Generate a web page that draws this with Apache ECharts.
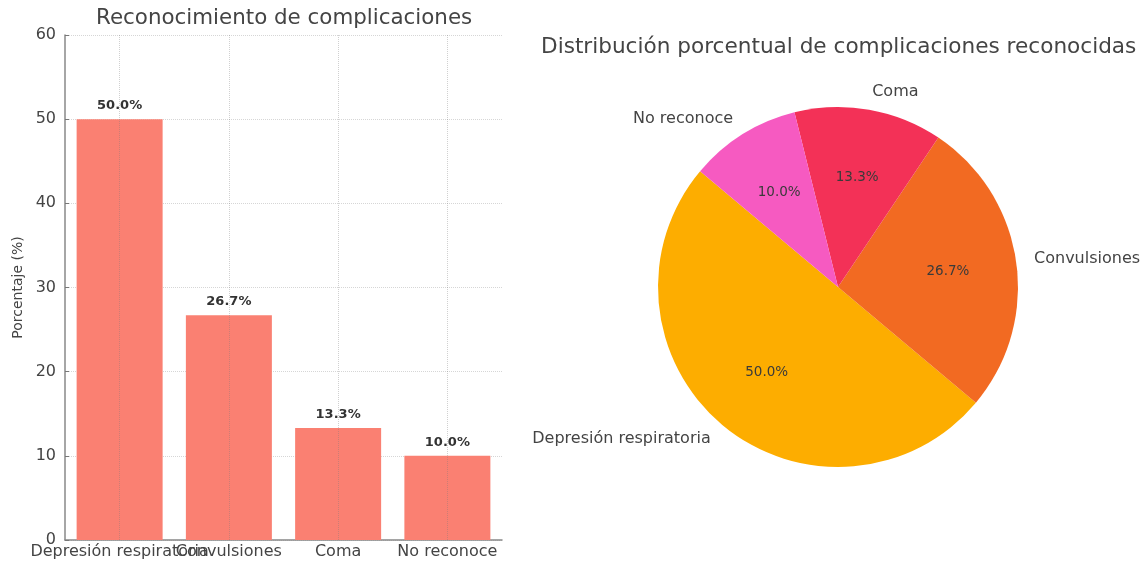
<!DOCTYPE html>
<html>
<head>
<meta charset="utf-8">
<script src="https://cdn.jsdelivr.net/npm/echarts@6/dist/echarts.min.js"></script>
<style>
html,body{margin:0;padding:0;background:#fff;}
#c{width:1145px;height:562px;}
</style>
</head>
<body>
<div id="c"></div>
<script>
const categories = ['Depresión respiratoria', 'Convulsiones', 'Coma', 'No reconoce'];
const percentages = [50.0, 26.7, 13.3, 10.0];
const yTicks = [0, 10, 20, 30, 40, 50, 60];
const pieColors = ['#FDAD00', '#F26A22', '#F33157', '#F65AC1'];
const barColor = '#FA8072';

const FONT = 'DejaVu Sans';
const chart = echarts.init(document.getElementById('c'), null, {renderer: 'canvas'});

const pieData = categories.map((name, i) => ({name: name, value: percentages[i], itemStyle: {color: pieColors[i]}}));

chart.setOption({
  animation: false,
  backgroundColor: '#fff',
  textStyle: {fontFamily: FONT},
  title: [
    {text: 'Reconocimiento de complicaciones', left: 96, top: 8, padding: 0,
     textStyle: {fontFamily: FONT, fontSize: 21.4, fontWeight: 'normal', color: '#444'}},
    {text: 'Distribución porcentual de complicaciones reconocidas', left: 541, top: 36, padding: 0,
     textStyle: {fontFamily: FONT, fontSize: 21.6, fontWeight: 'normal', color: '#444'}}
  ],
  grid: {left: 65, top: 35, width: 437, bottom: 22, containLabel: false},
  xAxis: {
    type: 'category',
    data: categories,
    axisLine: {lineStyle: {color: '#888', width: 1.5}},
    axisTick: {alignWithLabel: true, inside: true, length: 4, lineStyle: {color: '#777'}},
    axisLabel: {interval: 0, hideOverlap: false, fontFamily: FONT, fontSize: 16, color: '#444', margin: 4},
    splitLine: {show: false}
  },
  yAxis: {
    type: 'value',
    min: yTicks[0], max: yTicks[yTicks.length - 1], interval: 10,
    name: 'Porcentaje (%)', nameLocation: 'middle', nameGap: 40,
    nameTextStyle: {fontFamily: FONT, fontSize: 14, color: '#444'},
    axisLine: {show: true, lineStyle: {color: '#888', width: 1.5}},
    axisTick: {show: true, inside: true, length: 4, lineStyle: {color: '#777'}},
    axisLabel: {fontFamily: FONT, fontSize: 16, color: '#444', margin: 9},
    splitLine: {show: true, lineStyle: {color: '#d6d6d6', type: 'dotted', width: 1}}
  },
  series: [
    {
      type: 'bar',
      data: percentages,
      barWidth: 86,
      itemStyle: {color: barColor},
      label: {show: true, position: 'top', distance: 7, fontFamily: FONT, fontSize: 13, fontWeight: 'bold', color: '#333',
              formatter: p => p.value.toFixed(1) + '%'},
      markLine: {
        silent: true, symbol: 'none', label: {show: false},
        lineStyle: {color: 'rgba(120,120,120,0.35)', type: 'dotted', width: 1},
        data: categories.map(c => ({xAxis: c}))
      }
    },
    {
      type: 'pie',
      center: [838, 287],
      radius: [0, 180],
      startAngle: 140,
      clockwise: false,
      avoidLabelOverlap: false,
      silent: true,
      itemStyle: {borderWidth: 0},
      data: pieData,
      label: {show: true, position: 'outside', alignTo: 'none', distanceToLabelLine: 0,
              fontFamily: FONT, fontSize: 16, color: '#444', formatter: '{b}'},
      labelLine: {show: false, length: 18, length2: 0},
      emphasis: {disabled: true}
    },
    {
      type: 'pie',
      center: [838, 287],
      radius: [36, 180],
      startAngle: 140,
      clockwise: false,
      avoidLabelOverlap: false,
      silent: true,
      itemStyle: {color: 'rgba(0,0,0,0)', borderWidth: 0},
      data: categories.map((name, i) => ({name: name, value: percentages[i]})),
      label: {show: true, position: 'inside', fontFamily: FONT, fontSize: 13.5, color: '#3a3a3a',
              formatter: p => p.value.toFixed(1) + '%'},
      labelLine: {show: false},
      emphasis: {disabled: true}
    }
  ]
});
</script>
</body>
</html>
